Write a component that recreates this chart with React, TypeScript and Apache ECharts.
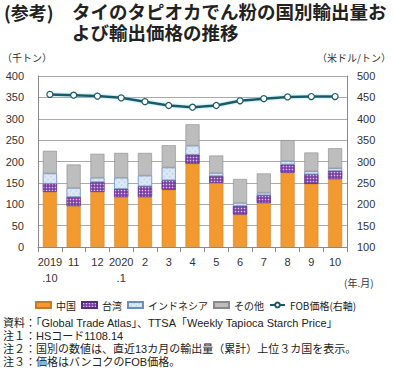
import React, { useEffect, useRef } from "react";
import * as echarts from "echarts";

const categories = ["2019\n.10", "11", "12", "2020\n.1", "2", "3", "4", "5", "6", "7", "8", "9", "10"];
const china = [129, 96, 129, 117, 117, 134, 195, 150, 76, 103, 174, 148, 159];
const taiwan = [19, 21, 23, 19, 25, 22, 21, 16, 20, 18, 19, 22, 19];
const indonesia = [24, 21, 10, 26, 25, 30, 21, 7, 7, 6, 8, 7, 6];
const others = [53, 55, 56, 58, 53, 52, 50, 41, 56, 45, 49, 44, 47];
const fobPrice = [457, 455, 453, 449, 440, 431, 427, 431, 442, 447, 451, 452, 452];
const notes = [
  "資料：「Global Trade Atlas」、TTSA「Weekly Tapioca Starch Price」",
  "注１：HSコード1108.14",
  "注２：国別の数値は、直近13カ月の輸出量（累計）上位３カ国を表示。",
  "注３：価格はバンコクのFOB価格。",
];

const FONT = "'Liberation Sans', 'Noto Sans CJK JP', sans-serif";
const JP = "'Noto Sans CJK JP', sans-serif";

export default function App() {
  const ref = useRef<HTMLDivElement>(null);
  useEffect(() => {
    if (!ref.current) return;
    const chart = echarts.init(ref.current, null, { renderer: "svg" });
    const barBase = { type: "bar", stack: "total", barWidth: 14, yAxisIndex: 0 };
    chart.setOption({
      animation: false,
      textStyle: { fontFamily: FONT },
      grid: { left: 38, right: 46, top: 76, bottom: 123 },
      legend: {
        left: 30,
        top: 295,
        itemWidth: 15,
        itemHeight: 6,
        itemGap: 5,
        textStyle: { fontSize: 10, color: "#222", fontFamily: JP },
        data: [
          { name: "中国", icon: "rect" },
          { name: "台湾", icon: "rect" },
          { name: "インドネシア", icon: "rect" },
          { name: "その他", icon: "rect" },
          { name: "FOB価格(右軸)" },
        ],
      },
      xAxis: {
        type: "category",
        data: categories,
        axisLine: { lineStyle: { color: "#888" } },
        axisTick: { show: true, alignWithLabel: false, lineStyle: { color: "#888" } },
        axisLabel: { fontSize: 11, color: "#333", lineHeight: 16, margin: 7, interval: 0 },
      },
      yAxis: [
        {
          type: "value",
          min: 0,
          max: 400,
          interval: 50,
          axisLine: { show: true, lineStyle: { color: "#888" } },
          axisTick: { show: false },
          axisLabel: { fontSize: 11, color: "#333", margin: 14 },
          splitLine: { lineStyle: { color: "#aaa" } },
        },
        {
          type: "value",
          min: 100,
          max: 500,
          interval: 50,
          position: "right",
          axisLine: { show: true, lineStyle: { color: "#888" } },
          axisTick: { show: false },
          axisLabel: { fontSize: 11, color: "#333", margin: 10 },
          splitLine: { show: false },
        },
      ],
      series: [
        {
          ...barBase,
          name: "中国",
          data: china,
          itemStyle: { color: "#F29A30", borderColor: "#C87A20", borderWidth: 0.5 },
        },
        {
          ...barBase,
          name: "台湾",
          data: taiwan,
          itemStyle: {
            color: "#7B3FA8",
            borderColor: "#5A2A80",
            borderWidth: 0.5,
            decal: {
              symbol: "circle",
              symbolSize: 0.5,
              color: "rgba(255,255,255,0.7)",
              dashArrayX: [3, 0],
              dashArrayY: [3, 0],
              rotation: 0,
            },
          },
        },
        {
          ...barBase,
          name: "インドネシア",
          data: indonesia,
          itemStyle: {
            color: "#DCE8F6",
            borderColor: "#6F8FB8",
            borderWidth: 0.5,
            decal: {
              symbol: "rect",
              symbolSize: 0.6,
              color: "rgba(90,130,190,0.55)",
              dashArrayX: [2, 2],
              dashArrayY: [2, 2],
              rotation: 0.785,
            },
          },
        },
        {
          ...barBase,
          name: "その他",
          data: others,
          itemStyle: { color: "#BDBDBD", borderColor: "#8A8A8A", borderWidth: 0.6 },
        },
        {
          type: "line",
          name: "FOB価格(右軸)",
          yAxisIndex: 1,
          data: fobPrice,
          symbol: "circle",
          symbolSize: 6,
          lineStyle: { color: "#1D5866", width: 2.5, shadowColor: "#7FD3E0", shadowBlur: 2 },
          itemStyle: { color: "#fff", borderColor: "#1D5866", borderWidth: 1.2 },
        },
      ],
      graphic: [
        {
          type: "text",
          left: 4,
          top: 3,
          style: { text: "(参考)", fontSize: 18, fontWeight: "bold", fill: "#222", fontFamily: JP },
        },
        {
          type: "text",
          left: 72,
          top: 3,
          style: {
            text: "タイのタピオカでん粉の国別輸出量お",
            fontSize: 18.5,
            fontWeight: "bold",
            fill: "#222",
            fontFamily: FONT,
          },
        },
        {
          type: "text",
          left: 72,
          top: 24,
          style: {
            text: "よび輸出価格の推移",
            fontSize: 18.5,
            fontWeight: "bold",
            fill: "#222",
            fontFamily: FONT,
          },
        },
        {
          type: "text",
          left: 2,
          top: 52,
          style: { text: "（千トン）", fontSize: 10, fill: "#333", fontFamily: JP },
        },
        {
          type: "text",
          right: 2,
          top: 52,
          style: { text: "（米ドル/トン）", fontSize: 10, fill: "#333", fontFamily: JP },
        },
        {
          type: "text",
          left: 344,
          top: 277,
          style: { text: "(年.月)", fontSize: 10, fill: "#333", fontFamily: JP },
        },
        ...notes.map((t, i) => ({
          type: "text",
          left: 3,
          top: 317 + i * 13,
          style: { text: t, fontSize: 11, fill: "#222", fontFamily: FONT },
        })),
      ],
    });
    return () => chart.dispose();
  }, []);
  return <div ref={ref} style={{ width: 393, height: 370, position: "absolute", left: 0, top: 0 }} />;
}
